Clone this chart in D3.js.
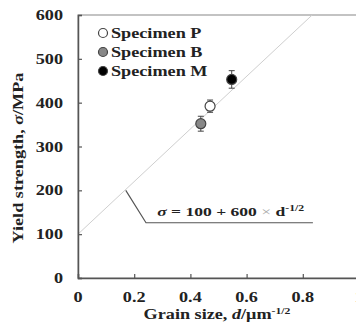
<!DOCTYPE html>
<html>
<head>
<meta charset="utf-8">
<script src="https://cdn.jsdelivr.net/npm/d3@7"></script>
<style>
  body { margin: 0; background: #fff; }
  svg text { font-family: "Liberation Serif", "Times New Roman", serif; font-weight: bold; fill: #222; }
</style>
</head>
<body>
<svg id="chart"></svg>
<script>
// data
const specimens = ['Specimen P', 'Specimen B', 'Specimen M'];
const grainSize = [0.47, 0.437, 0.547];      // d^-1/2, um^-1/2
const yieldStrength = [392, 352, 453];       // MPa
const yieldError = [14, 17, 20];
const xTicks = [0, 0.2, 0.4, 0.6, 0.8, 1];
const yTicks = [0, 100, 200, 300, 400, 500, 600];
const fitIntercept = 100;
const fitSlope = 600;

const width = 356, height = 324;
const margin = { top: 15, left: 78 };
const plotW = 281, plotH = 263;
const stretch = 1.3; // the source font is set wide

const markerFill = ['#fff', '#888', '#000'];

const svg = d3.select('#chart').attr('width', width).attr('height', height);
const g = svg.append('g').attr('transform', `translate(${margin.left},${margin.top})`);

const x = d3.scaleLinear().domain([0, 1]).range([0, plotW]);
const y = d3.scaleLinear().domain([0, 600]).range([plotH, 0]);

// wide text helper
function wideText(parent, tx, ty, str, anchor, size, rotate) {
  return parent.append('text')
    .attr('transform', `translate(${tx},${ty})${rotate ? ' rotate(-90)' : ''} scale(${stretch},1)`)
    .attr('text-anchor', anchor || 'start')
    .style('font-size', (size || 14) + 'px')
    .text(str);
}

// frame
g.append('rect')
  .attr('width', plotW).attr('height', plotH)
  .attr('fill', 'none').attr('stroke', '#888').attr('stroke-width', 1);

// fit line
const fitX = [0, (600 - fitIntercept) / fitSlope];
g.append('line')
  .attr('x1', x(fitX[0])).attr('y1', y(fitIntercept + fitSlope * fitX[0]))
  .attr('x2', x(fitX[1])).attr('y2', y(fitIntercept + fitSlope * fitX[1]))
  .attr('stroke', '#cfcfcf').attr('stroke-width', 1);

// axes
const xAxis = d3.axisBottom(x).tickValues(xTicks).tickSize(-4).tickFormat('');
const yAxis = d3.axisLeft(y).tickValues(yTicks).tickSize(-4).tickFormat('');
const xAxisG = g.append('g').attr('transform', `translate(0,${plotH})`).call(xAxis);
const yAxisG = g.append('g').call(yAxis);
[xAxisG, yAxisG].forEach(a => {
  a.select('.domain').attr('stroke', '#555').attr('stroke-width', 1.5);
  a.selectAll('.tick line').attr('stroke', '#555').attr('stroke-width', 1.2);
});

xTicks.forEach(t => wideText(g, x(t), plotH + 24, t === 0 || t === 1 ? String(t) : t.toFixed(1), 'middle'));
yTicks.forEach(t => wideText(g, -15, y(t) + 5, String(t), 'end'));

// axis titles
const xt = wideText(svg, 217, 319, '', 'middle');
xt.append('tspan').text('Grain size, ');
xt.append('tspan').style('font-style', 'italic').text('d');
xt.append('tspan').text('/\u03bcm');
xt.append('tspan').attr('dy', -5).style('font-size', '9px').text('-1/2');

const yt = wideText(svg, 23, 158, '', 'middle', 14, true);
yt.append('tspan').text('Yield strength, ');
yt.append('tspan').style('font-style', 'italic').text('\u03c3');
yt.append('tspan').text('/MPa');

// error bars + markers
const pts = specimens.map((s, i) => ({ name: s, d: grainSize[i], s: yieldStrength[i], e: yieldError[i], fill: markerFill[i] }));
const pg = g.selectAll('.pt').data(pts).join('g').attr('class', 'pt');
pg.append('line')
  .attr('x1', d => x(d.d)).attr('x2', d => x(d.d))
  .attr('y1', d => y(d.s - d.e)).attr('y2', d => y(d.s + d.e))
  .attr('stroke', '#444').attr('stroke-width', 1);
[-1, 1].forEach(sgn => {
  pg.append('line')
    .attr('x1', d => x(d.d) - 3).attr('x2', d => x(d.d) + 3)
    .attr('y1', d => y(d.s + sgn * d.e)).attr('y2', d => y(d.s + sgn * d.e))
    .attr('stroke', '#444').attr('stroke-width', 1);
});
pg.append('circle')
  .attr('cx', d => x(d.d)).attr('cy', d => y(d.s)).attr('r', 5)
  .attr('fill', d => d.fill).attr('stroke', '#444').attr('stroke-width', 1.2);

// legend
const legend = g.append('g').attr('transform', 'translate(25,18)');
pts.forEach((p, i) => {
  legend.append('circle').attr('cx', 0).attr('cy', i * 19).attr('r', 4.5)
    .attr('fill', p.fill).attr('stroke', '#444').attr('stroke-width', 1.2);
  wideText(legend, 8, i * 19 + 5, p.name, 'start');
});

// equation annotation with leader
const leader = [[0.17, 200], [0.242, 126], [0.836, 126]];
g.append('path')
  .attr('d', d3.line().x(d => x(d[0])).y(d => y(d[1]))(leader))
  .attr('fill', 'none').attr('stroke', '#555').attr('stroke-width', 1.2);
const eq = wideText(g, x(0.282), y(141), '', 'start', 13.5);
eq.append('tspan').style('font-style', 'italic').text('\u03c3');
eq.append('tspan').text(` = ${fitIntercept} + ${fitSlope} `);
eq.append('tspan').style('fill', '#aaa').style('font-weight', 'normal').text('\u00d7');
eq.append('tspan').text(' d');
eq.append('tspan').attr('dy', -5).style('font-size', '9px').text('-1/2');
</script>
</body>
</html>
